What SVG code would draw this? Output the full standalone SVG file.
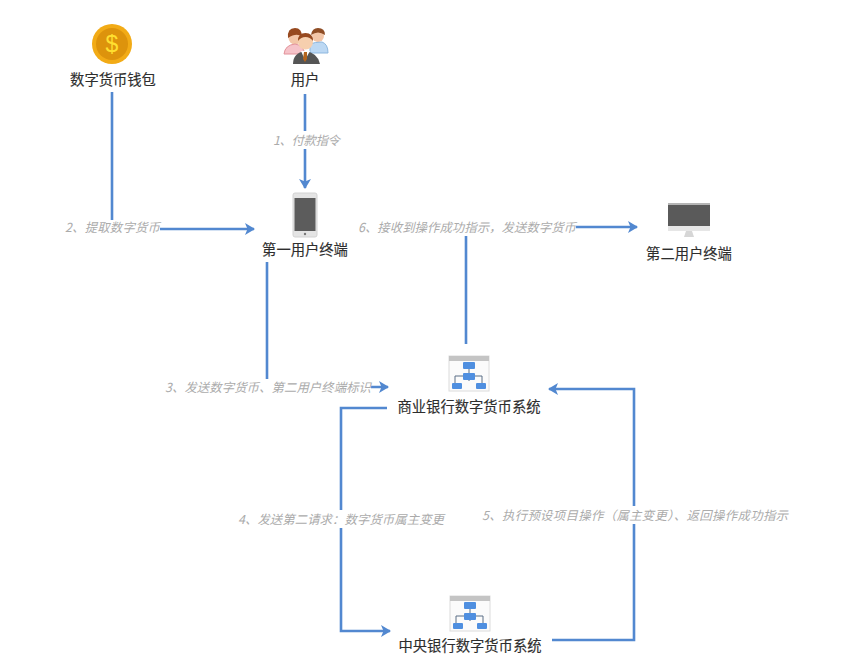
<svg xmlns="http://www.w3.org/2000/svg" width="847" height="670" viewBox="0 0 847 670">
<style>
.n{font:400 14.3px "Noto Sans CJK SC","Noto Sans",sans-serif;fill:#2e2e2e;stroke:#2e2e2e;stroke-width:.15;text-anchor:middle}
.l{font:italic 12.4px "Noto Sans CJK SC","Noto Sans",sans-serif;fill:#ababab}
.c{fill:none;stroke:#5288d0;stroke-width:2.6}
.b{fill:#fff}
.o{fill:#4f8fe0}
.w{fill:none;stroke:#5a6f86;stroke-width:1}
</style>
<defs>
<marker id="a" markerUnits="userSpaceOnUse" markerWidth="10" markerHeight="12" refX="9" refY="6" orient="auto"><path d="M0 0L10 6L0 12L2.5 6Z" fill="#5288d0"/></marker>
<g id="org">
<rect x="0" y="0" width="40" height="35" fill="#fbfbfb" stroke="#dcdcdc"/>
<rect x="0" y="0" width="40" height="5" fill="#c4c4c4"/>
<path class="w" d="M20 12V17M20 23V25M14 20H6V27M26 20H33V27"/>
<rect class="o" x="14" y="6" width="12" height="7" rx="1"/>
<rect class="o" x="14" y="17" width="12" height="7" rx="1"/>
<rect class="o" x="3" y="27" width="10" height="6" rx="1"/>
<rect class="o" x="27" y="27" width="10" height="6" rx="1"/>
</g>
</defs>
<rect width="847" height="670" fill="#fff"/>
<g id="connectors">
<path class="c" marker-end="url(#a)" d="M112 92V229H254"/>
<path class="c" marker-end="url(#a)" d="M305 94V188"/>
<path class="c" marker-end="url(#a)" d="M267 262V387H388"/>
<path class="c" marker-end="url(#a)" d="M466 344V227H637"/>
<path class="c" marker-end="url(#a)" d="M387 408H341V631H390"/>
<path class="c" marker-end="url(#a)" d="M552 640H634V389H549"/>
</g>
<g id="connector-labels">
<rect class="b" x="64" y="220" width="96" height="17"/><text class="l" x="65" y="232" textLength="95">2、提取数字货币</text>
<rect class="b" x="272" y="131" width="68" height="18"/><text class="l" x="273" y="145" textLength="67">1、付款指令</text>
<rect class="b" x="164" y="379" width="207" height="17"/><text class="l" x="165" y="392" textLength="206">3、发送数字货币、第二用户终端标识</text>
<rect class="b" x="357" y="219" width="219" height="17"/><text class="l" x="358" y="232" textLength="218">6、接收到操作成功指示，发送数字货币</text>
<rect class="b" x="237" y="510" width="208" height="18"/><text class="l" x="238" y="524" textLength="206">4、发送第二请求：数字货币属主变更</text>
<rect class="b" x="481" y="506" width="308" height="18"/><text class="l" x="482" y="520" textLength="306">5、执行预设项目操作（属主变更）、返回操作成功指示</text>
</g>
<g id="wallet">
<circle cx="112" cy="44" r="20" fill="#f2ab16"/>
<circle cx="112" cy="44" r="16" fill="#dd930c"/>
<text x="112" y="52" font-family="Liberation Sans,sans-serif" font-size="23" fill="#ffdf30" text-anchor="middle">$</text>
<text class="n" x="113" y="85">数字货币钱包</text>
</g>
<g id="user">
<circle cx="295" cy="38" r="6.5" fill="#f3c6a8"/><path d="M288 38Q287 28 295 28Q302 28 302 37Q297 32 288 38Z" fill="#97491f"/>
<path d="M284 54Q285 45 295 44Q303 45 305 54Z" fill="#f6c3c9" stroke="#e2929a"/>
<circle cx="318" cy="36" r="6" fill="#f3c6a8"/><path d="M311 35Q312 28 318 28Q325 28 325 35Q318 30 311 35Z" fill="#8f4d25"/>
<path d="M310 53V44Q315 42 322 42Q328 44 328 53Z" fill="#bcd8f3" stroke="#8db7de"/>
<path d="M293 64Q293 53 305 51Q318 53 320 64Z" fill="#555"/>
<path d="M301 51H310L305 60Z" fill="#fff"/><path d="M304 52H307L307 59L305 62L303 59Z" fill="#b5651d"/>
<circle cx="305.500" cy="42" r="7.500" fill="#f6cfae"/><path d="M298 41Q298 33 305.500 33Q313 33 313 41Q310 37 305.500 37Q301 37 298 41Z" fill="#97491f"/>
<text class="n" x="305" y="85">用户</text>
</g>
<g id="first-terminal">
<rect x="293" y="193" width="24" height="44" rx="2" fill="#e4e4e4" stroke="#d2d2d2"/>
<rect x="294.500" y="198" width="21" height="33" fill="#5c5c5c"/>
<circle cx="305" cy="234" r="1.200" fill="#777"/>
<text class="n" x="305" y="255">第一用户终端</text>
</g>
<g id="second-terminal">
<rect x="668" y="203" width="42" height="23" fill="#5a5a5a"/>
<rect x="668" y="203" width="42" height="2" fill="#b5b5b5"/>
<rect x="668" y="226" width="42" height="5" fill="#e6e6e6"/>
<path d="M686 231H692L694 237H684Z" fill="#d6d6d6"/>
<text class="n" x="689" y="259">第二用户终端</text>
</g>
<g id="commercial-bank">
<use href="#org" x="449" y="356"/>
<text class="n" x="469" y="412">商业银行数字货币系统</text>
</g>
<g id="central-bank">
<use href="#org" x="450" y="596"/>
<text class="n" x="470" y="651">中央银行数字货币系统</text>
</g>
</svg>
